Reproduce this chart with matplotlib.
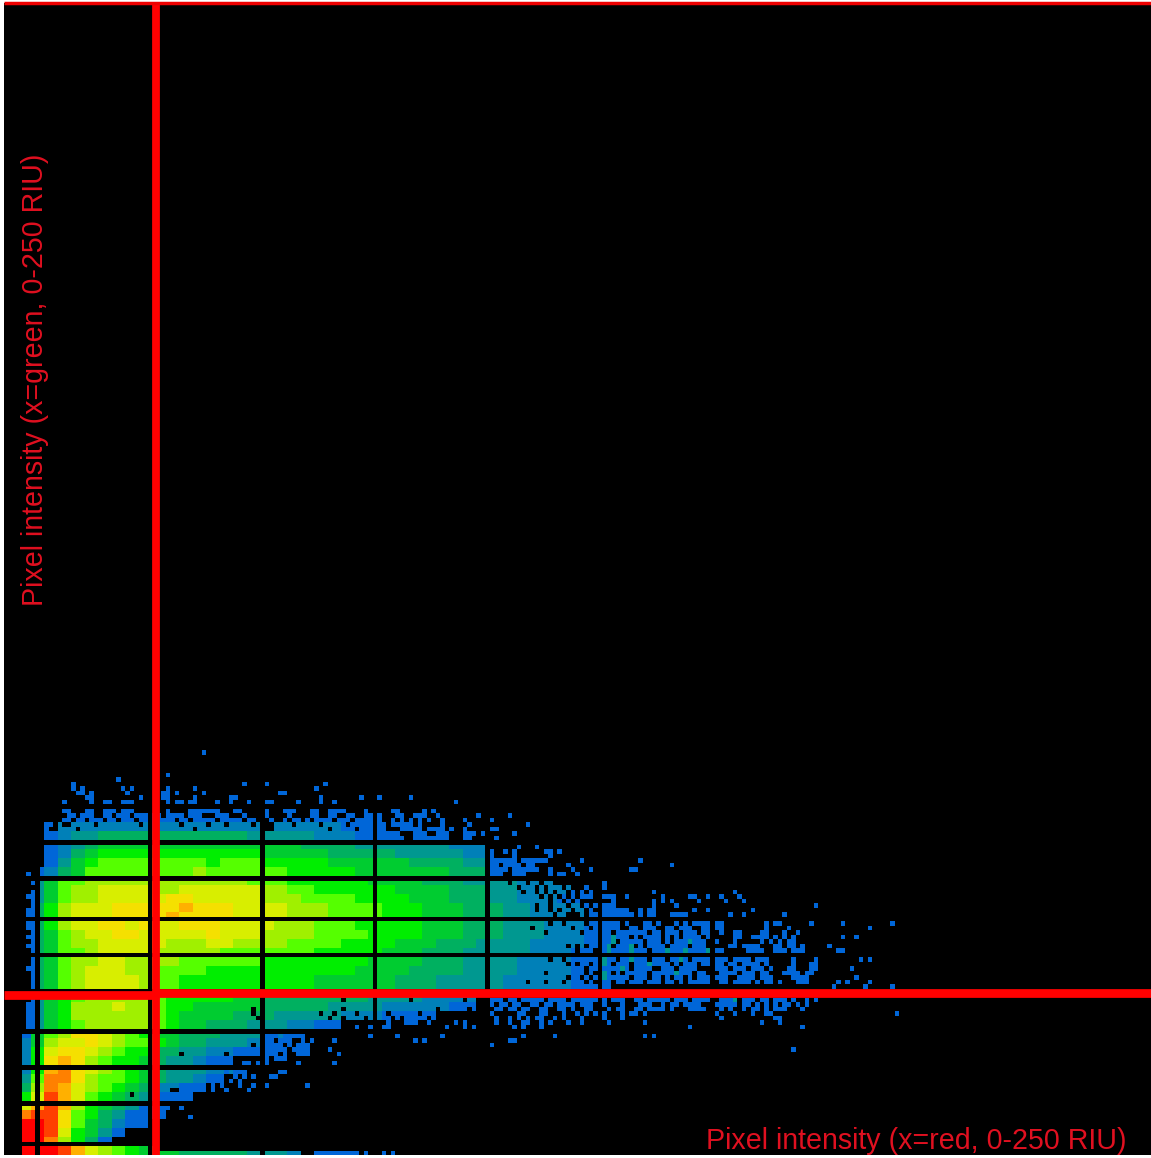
import numpy as np
import matplotlib
matplotlib.use("Agg")
import matplotlib.pyplot as plt
from matplotlib.colors import ListedColormap

# colour per count level, 0 = no pixels
level_colors = ["#000000", "#0066d8", "#0080b8", "#009890", "#00b060", "#00cc30", "#00ee00", "#55ff00",
                "#a0f000", "#d8ee00", "#f5e000", "#ffb000", "#ff8000", "#ff4000", "#ff0000"]

# counts, one string per 2 intensity rows (top to bottom, row 74 down to 0),
# one hex digit per 3 intensity columns
density = [
    "000011111111111111111111111100",
    "000122222222222222222222211100",
    "000123344444444444333332221100",
    "000123455555555555555544443333333222",
    "000124566666666666655555444443333322",
    "000135677777777677766666555555444433",
    "001245777777778777777666665555555444",
    "003577888888888888777666666555544433" "3322211",
    "003578899998899999988776666665555444" "33222211",
    "003578899999aa999998887777666655544" "433222111",
    "00468999aaaaabaaa9999888777766655544" "433222211",
    "00468999aaaabaaaa9999888777766655544" "433222211",
    "0046899aa9a99aaa99998887776666655544" "433322211",
    "00457899aa99999a99988887777666655544" "433322211",
    "00457889999988899888877776666555444" "333322221",
    "00457789999888887777777666665554443" "333322211",
    "00457889988887777776666666655554443" "333222211",
    "004578999887777666666666665555444433" "332222111",
    "004578999987766666666665555554443333" "322222111",
    "004578999987766666666665555554443333" "322222111",
    "00356788888766666554444444433332222",
    "00356888988766555554444433332222211",
    "00356888888765555444333332221111",
    "00356788888765544433322" "11",
    "01578aa98765544433322",
    "025899a9877654433322",
    "0269aa9876644332211",
    "026aba87665433211",
    "026bca98765433322",
    "037cca8776543321",
    "048cb9876542211",
    "069db976543111",
    "09bdb8654311",
    "0cdda7643111",
    "0eeda754211",
    "0eed96531",
    "0eec8641",
    "0eeedb9876555444443332",
]

# lone pixels outside the table, by row
strays = {
    89: [44], 84: [36], 83: [25], 82: [15, 53, 58, 71],
    81: [15, 17, 26, 28, 36, 42, 69],
    80: [16, 17, 19, 27, 35, 36, 38, 44, 61, 62],
    79: [18, 19, 30, 35, 36, 42, 50, 51, 70, 79, 83, 90],
    78: [13, 19, 22, 23, 26, 27, 28, 36, 38, 39, 41, 42, 47, 50, 54, 58, 59, 65, 70, 73, 100],
    76: [13, 14, 18, 19, 22, 23, 24, 26, 27, 28, 36, 41, 42, 43, 44, 45, 46, 47, 51, 52, 58, 62, 63, 64, 68,
         69, 72, 73, 74, 75, 80, 86, 87, 93, 95],
    75: [87, 88, 91, 92, 93, 96, 105, 112],
    74: [83, 86, 88, 90, 92, 94, 97, 102, 108],
    73: [83, 84, 86, 87, 88, 89, 90, 92, 97, 103, 116],
    72: [83, 84, 88, 89, 90, 91, 92, 94, 95, 96, 97, 99, 102, 108, 109],
    71: [83, 84, 85, 86, 87, 91, 92, 93, 96, 97, 98, 102, 103, 104, 106, 113],
    70: [83, 84, 85, 86, 87, 88, 91, 92, 93, 94, 95, 96, 97, 98, 102, 103, 109],
    68: [114, 118],
    67: [108, 111, 113, 120, 121, 123],
    66: [108, 113, 121],
    65: [108, 109, 110, 111, 112, 113, 115, 116, 117, 118, 119, 120, 128, 141],
    64: [108, 109, 111, 112, 113, 114, 116, 117, 125, 148],
    63: [108, 109, 110, 111, 113, 114, 115, 116, 117, 118, 121, 126, 130, 139, 140],
    62: [5, 108, 109, 110, 113, 114, 115, 121, 123, 124, 127],
    60: [6, 133], 59: [133],
    58: [6, 144, 162],
    57: [5, 6, 133, 134, 135, 138, 146, 152, 153, 156, 159, 163],
    56: [6, 135, 144, 146, 148, 154, 160, 164],
    55: [6, 133, 135, 144, 149, 180],
    54: [5, 6, 133, 134, 135, 136, 137, 138, 141, 143, 144, 153, 156, 166],
    53: [5, 6, 135, 136, 137, 138, 139, 141, 143, 144, 148, 149, 150, 151, 161, 164, 173],
    51: [5, 6, 186, 197], 50: [5, 6, 192], 49: [6], 48: [5, 6, 186, 189], 47: [6], 46: [5, 6, 183],
    45: [6, 185, 186], 43: [6, 190, 192], 42: [6], 41: [5, 6, 188], 40: [6], 39: [6, 189],
    38: [6, 185, 187, 192], 37: [6, 184, 191, 197],
    34: [6, 108, 109, 110, 112, 113, 115, 116, 117, 118, 119, 121, 122, 123, 124, 126, 127, 128, 129, 130, 131],
    33: [5, 6, 108, 110, 111, 113, 114, 117, 118, 120, 121, 123, 124, 125, 126, 128, 129, 130],
    32: [5, 6, 109, 110, 112, 113, 115, 116, 119, 120, 123, 124, 126, 129, 130],
    31: [5, 6, 108, 114, 115, 119, 120, 124, 127, 129, 131, 133, 137, 139, 140, 142, 158, 162, 166, 169, 170, 198],
    30: [5, 6, 109, 112, 114, 116, 118, 119, 122, 124, 128, 133, 137, 159, 171, 172],
    29: [5, 6, 85, 89, 90, 91, 94, 100, 102, 109, 112, 115, 116, 119, 121, 125, 128, 134, 142, 168, 172],
    28: [5, 6, 78, 81, 84, 85, 98, 102, 104, 113, 115, 119, 152, 177],
    26: [58, 59, 60, 62, 63, 64, 65, 66, 81, 87, 97, 115, 122, 142, 144],
    25: [58, 59, 61, 62, 63, 66, 68, 73, 91, 93, 112, 113],
    24: [58, 59, 60, 61, 63, 65, 66, 67, 108],
    23: [58, 59, 60, 61, 62, 64, 65, 66, 67, 72, 175],
    22: [58, 59, 60, 62, 65, 66, 67, 74],
    21: [58, 60, 61, 62],
    20: [50, 53, 54, 56, 58, 65, 73],
    18: [49, 51, 52, 53, 61, 62],
    17: [48, 51, 53, 55, 59, 60],
    16: [48, 50, 52],
    15: [46, 48, 52, 55, 58, 67],
    14: [46, 49, 54],
    10: [34, 36, 39], 9: [34, 35], 8: [34, 41],
    0: [69, 70, 71, 72, 73, 74, 75, 76, 77, 78, 80, 84, 86],
}

# blue tail on the right, one character per column from col_right on
col_right = 133
right_rows = {
    51: "#.##.#...##.#...#.#.####.##.........#.##......#.",
    50: "####..##.###..##.###..##.##.........#....#......",
    49: "##.#######.##.###.###.###.#..##....##...#..#....",
    48: "#.+###.#.####.#.#.####.##....##..####.#.#.#.....",
    47: "##+.#####.###.#.###+###.##...#.....#.#.#.##.....",
    46: "#+.###+.#.####.####.###.....##.####...##.##.#...",
    45: "#+####+###.###+###+####+###.....####..###.###...",
    43: "+##.##+###.###.##+#.####.###.####.###.....#....#",
    42: "+#.###.###+####.#.###.##.##.##.####.#.....#...##",
    41: "#.##+#.####..###.####...####.###.###.#...##...##",
    40: "+#.#.#####.#####+###.##.#.####.###.##...####.##",
    39: "+#####.###.##.#.##.#.###.###..####.###....####",
    38: "##.##.###.###.##.#.######.##.####.#.##.#...###",
    34: "#.###..##.#####.###.####..###+.###.##.###.#..#.#",
    33: "#...#...###..#.##.####...#####.##.#.#.#.##.#.#",
    32: ".#.##..##.####.#...####...#.#..#.##.#.###...#",
}

# empty pixels inside the table, by row
holes = {
    75: [12, 13, 16, 20, 21, 24, 28, 35, 40, 44, 45, 46, 50, 51, 52, 54, 55, 56, 57, 59, 60, 61, 62, 64, 65, 66,
         67, 70, 71, 74, 75, 78, 79],
    74: [12, 15, 18, 22, 25, 29, 38, 41, 47, 53, 56, 58, 60, 61, 63, 66, 68, 73, 77],
    73: [11, 13, 14, 20, 30, 39, 45, 49, 55, 58, 59, 64, 70, 76],
    72: [10, 11, 16, 42, 58, 59, 72, 78],
    60: [112, 116, 119, 122, 123, 124, 125, 126, 127, 128, 129, 130, 131],
    59: [114, 118, 120, 124, 126, 127, 128, 130, 131],
    58: [115, 118, 120, 122, 125, 127, 129, 131],
    57: [119, 121, 123, 125, 127, 131],
    56: [121, 124, 126, 128, 129, 130, 131],
    55: [118, 121, 125, 128, 130],
    54: [118, 121, 123, 126, 129, 131],
    53: [122, 125, 126, 127, 129],
    51: [121, 124, 129],
    50: [117, 126, 130],
    49: [120, 128],
    46: [125, 127, 129],
    45: [127, 131],
    43: [121, 124],
    42: [125, 127, 130],
    41: [129],
    40: [120, 129, 131],
    39: [125, 128, 130],
    38: [116, 120, 124, 129, 131],
    34: [75, 90, 102], 32: [55, 75, 96, 103],
    31: [55, 70, 73, 78, 85, 92, 97, 104],
    30: [56, 72, 75, 80, 86, 88, 94, 100, 105],
    24: [55], 22: [39, 49], 13: [28], 14: [37, 38],
}

# intensity values with no pixels at all (black lines of the histogram)
gap_cols = [7, 32, 57, 82, 107, 132, 157, 182]
gap_rows = [2, 11, 19, 27, 36, 44, 52, 61, 69, 77, 86]

x_label = "Pixel intensity (x=red, 0-250 RIU)"
y_label = "Pixel intensity (x=green, 0-250 RIU)"

# threshold cross
red_col = 33.75
red_row_left = 35.6
red_row_right = 36.1
red_split = 33.75

n_bins = 256
grid = np.zeros((n_bins, n_bins))
for i, line in enumerate(density):
    row = (len(density) - 1 - i) * 2
    for j, ch in enumerate(line[:45]):
        grid[row:row + 2, j * 3:j * 3 + 3] = int(ch, 16)

grid[:, :4] = 0
grid[27:, :8] = 0
grid[1, 34:] = 0

for row, cols in holes.items():
    grid[row, cols] = 0
for row, cols in strays.items():
    grid[row, cols] = 1
for row, line in right_rows.items():
    for k, ch in enumerate(line):
        if ch == "#":
            grid[row, col_right + k] = 1
        elif ch == "+":
            grid[row, col_right + k] = 3

grid[:, gap_cols] = 0
grid[gap_rows, :] = 0

fig = plt.figure(figsize=(11.51, 11.58), dpi=100, facecolor="white")
ax = fig.add_axes([4 / 1151, 3 / 1158, 1147 / 1151, 1152 / 1158])
ax.imshow(grid, cmap=ListedColormap(level_colors), vmin=-0.5, vmax=14.5, origin="lower",
          extent=(0, n_bins, 0, n_bins), aspect="auto", interpolation="nearest")

ax.plot([red_col, red_col], [0, n_bins], color="#ff0000", lw=5.6, solid_capstyle="butt")
ax.plot([0, red_split], [red_row_left, red_row_left], color="#ff0000", lw=6.3, solid_capstyle="butt")
ax.plot([red_split, n_bins], [red_row_right, red_row_right], color="#ff0000", lw=6.3, solid_capstyle="butt")
ax.plot([0, n_bins], [n_bins - 0.1, n_bins - 0.1], color="#ee0000", lw=2.5, solid_capstyle="butt", clip_on=False)

# column scale of the source is a touch wider than the frame
ax.set_xlim(0, 255)
ax.set_ylim(0, n_bins)
ax.axis("off")

fig.text(1126 / 1151, 1 - 1149 / 1158, x_label, color="#e01020", fontsize=20.6, family="Liberation Sans",
         ha="right", va="baseline")
fig.text(35 / 1151, 1 - 380 / 1158, y_label, color="#e01020", fontsize=20.6, family="Liberation Sans",
         rotation=90, ha="center", va="center")

fig.savefig("out.png", dpi=100, facecolor=fig.get_facecolor())
